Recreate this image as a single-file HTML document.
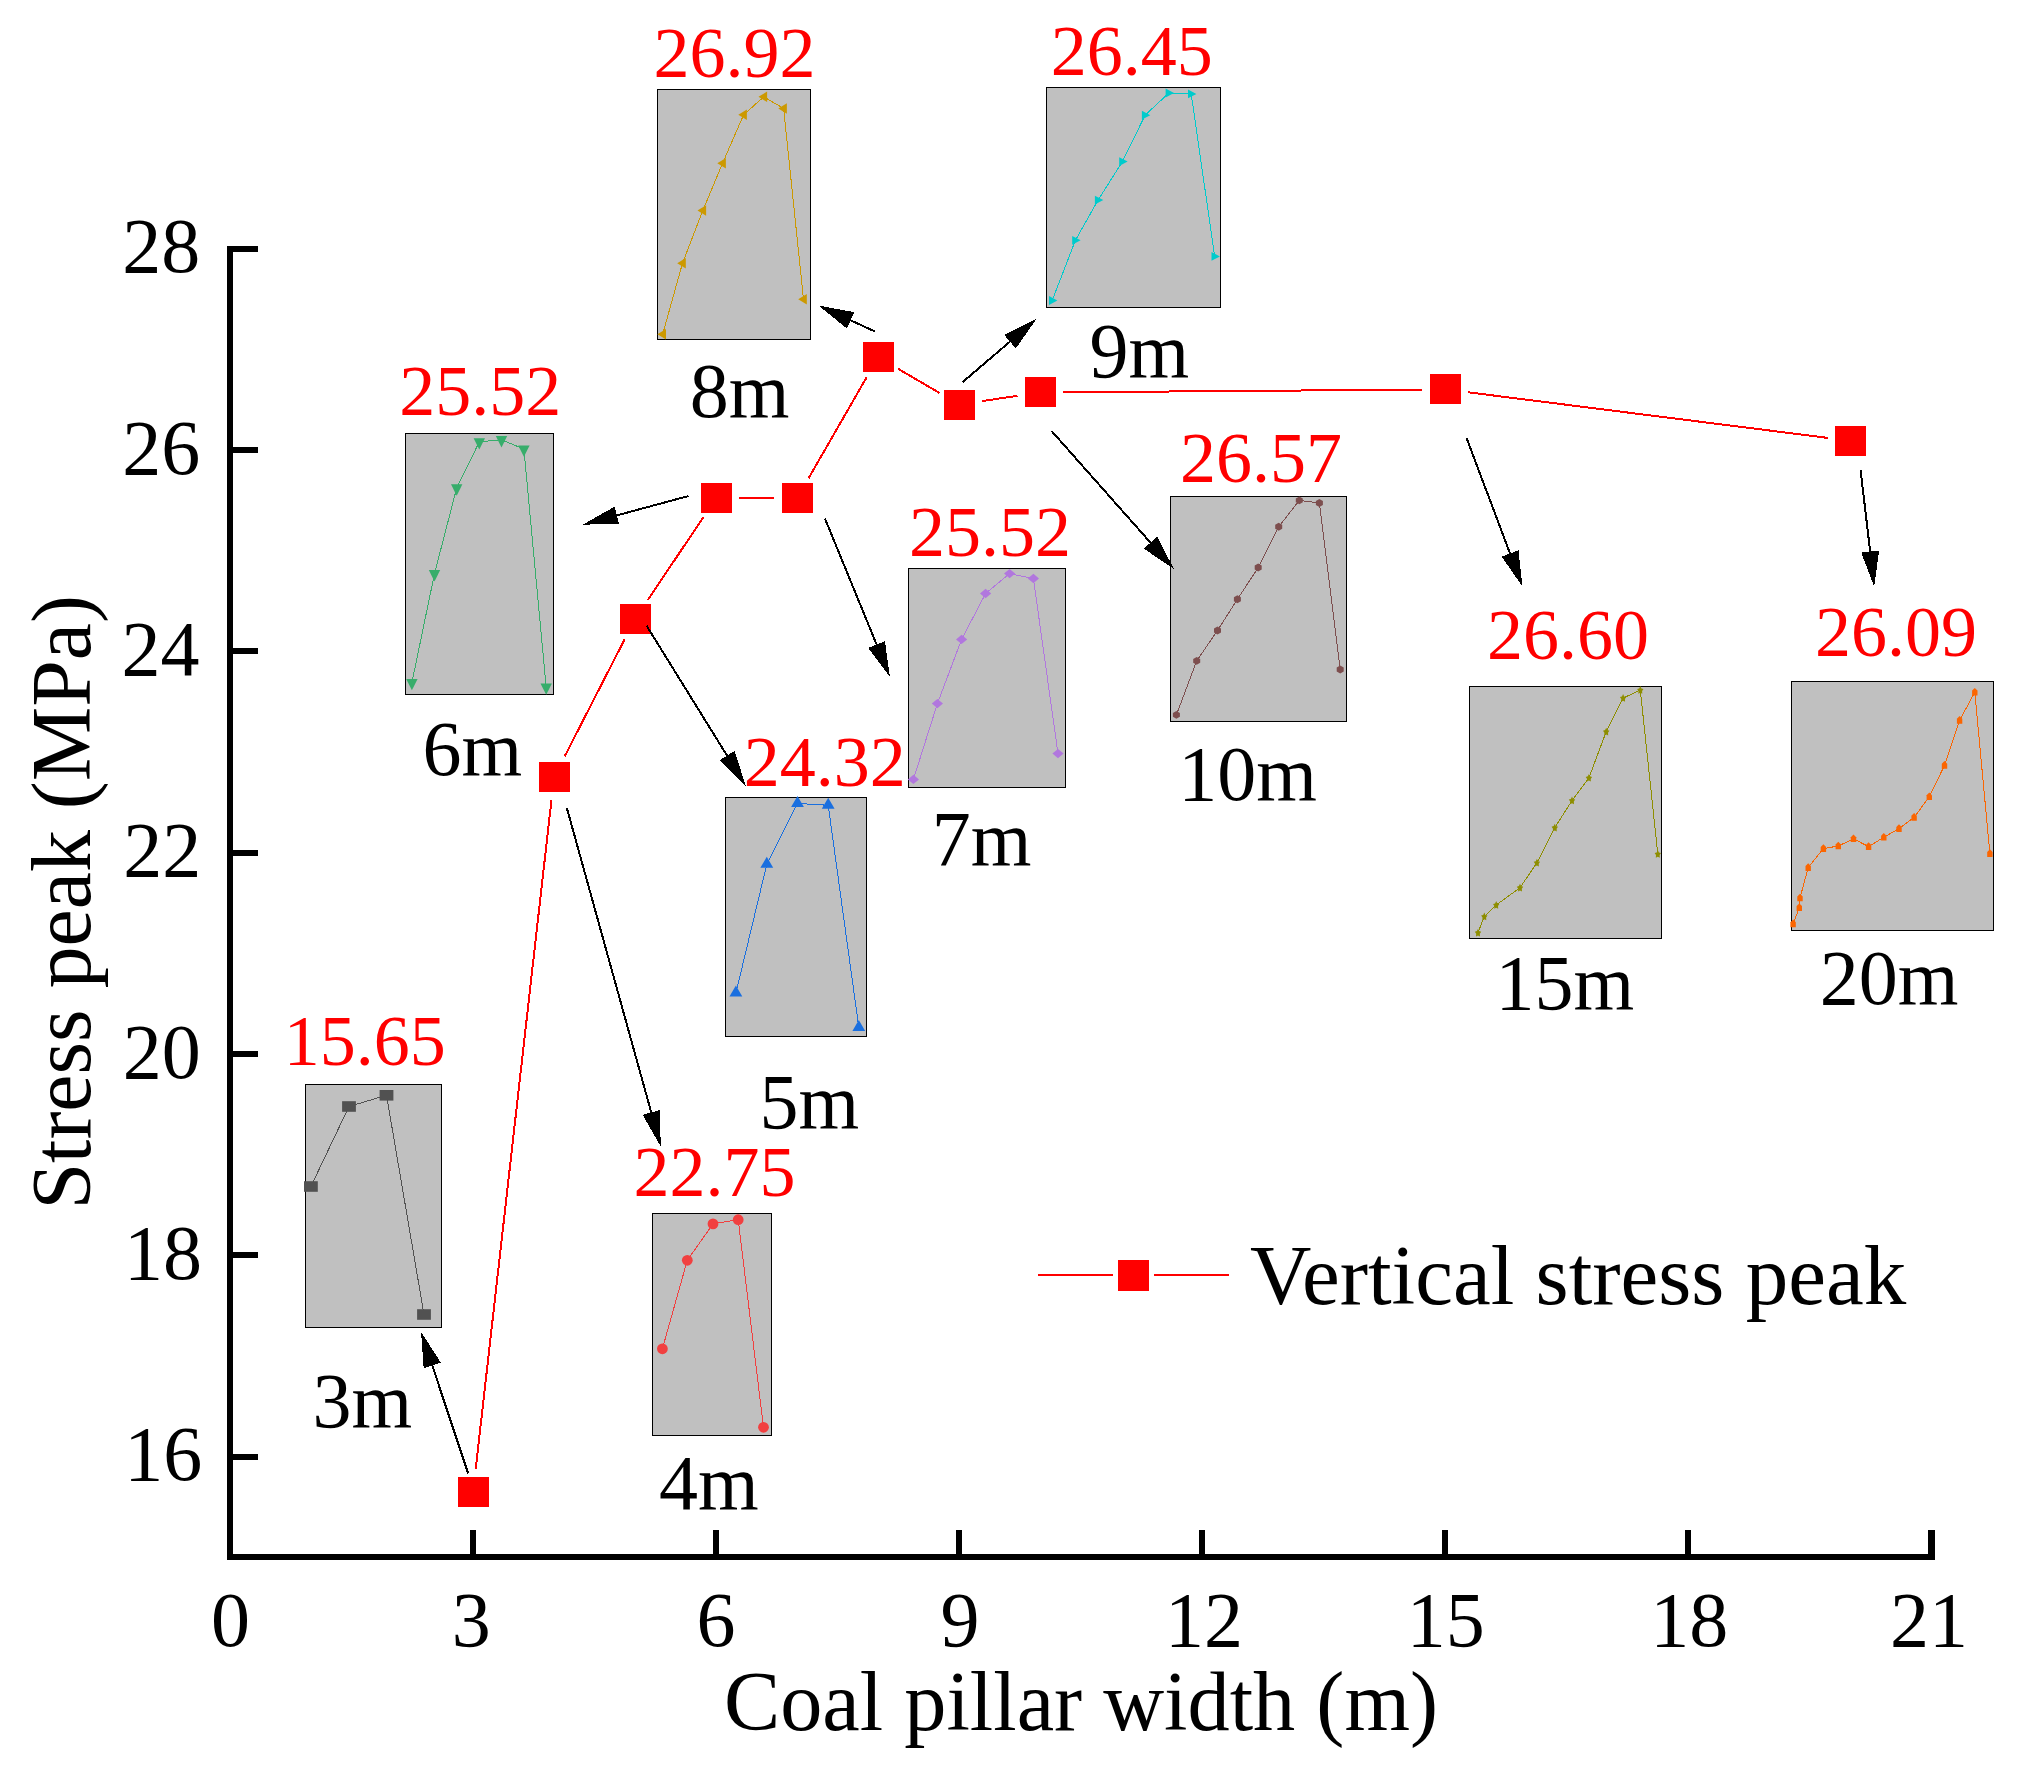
<!DOCTYPE html>
<html lang="en"><head><meta charset="utf-8"><title>Vertical stress peak vs coal pillar width</title>
<style>html,body{margin:0;padding:0;background:#fff}body{width:2024px;height:1773px;overflow:hidden}svg{display:block}text{font-family:"Liberation Serif","Times New Roman",serif}</style></head><body>
<svg width="2024" height="1773" viewBox="0 0 2024 1773">
<rect width="2024" height="1773" fill="#fff"/>
<g stroke="#ff0000" stroke-width="2" fill="none" shape-rendering="crispEdges">
<line x1="475.7" y1="1468.9" x2="551.5" y2="799.9"/>
<line x1="564.6" y1="756.5" x2="624.6" y2="639.4"/>
<line x1="647.9" y1="599.9" x2="703.3" y2="517.3"/>
<line x1="739.1" y1="498.2" x2="774.2" y2="498.2"/>
<line x1="808.6" y1="478.2" x2="866.7" y2="377.2"/>
<line x1="898.1" y1="368.8" x2="939.4" y2="392.9"/>
<line x1="982.0" y1="401.1" x2="1017.5" y2="395.8"/>
<line x1="1063.2" y1="392.3" x2="1422.4" y2="389.6"/>
<line x1="1468.2" y1="392.3" x2="1827.7" y2="437.9"/>
</g>
<g>
<rect x="305.5" y="1084.5" width="136.0" height="243.0" fill="#c0c0c0" stroke="#000" stroke-width="1" shape-rendering="crispEdges"/>
<polyline fill="none" stroke="#515151" stroke-width="1" shape-rendering="crispEdges" points="310.9,1186.5 349.0,1106.5 386.5,1095.3 424.0,1314.5"/>
<rect x="304.0" y="1181.2" width="13.8" height="10.6" fill="#515151"/>
<rect x="342.1" y="1101.2" width="13.8" height="10.6" fill="#515151"/>
<rect x="379.6" y="1090.0" width="13.8" height="10.6" fill="#515151"/>
<rect x="417.1" y="1309.2" width="13.8" height="10.6" fill="#515151"/>
</g>
<g>
<rect x="652.5" y="1213.5" width="119.0" height="222.0" fill="#c0c0c0" stroke="#000" stroke-width="1" shape-rendering="crispEdges"/>
<polyline fill="none" stroke="#f14040" stroke-width="1" shape-rendering="crispEdges" points="662.4,1348.8 687.3,1260.3 713.0,1223.9 738.2,1219.7 763.5,1427.3"/>
<circle cx="662.4" cy="1348.8" r="5.4" fill="#f14040"/>
<circle cx="687.3" cy="1260.3" r="5.4" fill="#f14040"/>
<circle cx="713.0" cy="1223.9" r="5.4" fill="#f14040"/>
<circle cx="738.2" cy="1219.7" r="5.4" fill="#f14040"/>
<circle cx="763.5" cy="1427.3" r="5.4" fill="#f14040"/>
</g>
<g>
<rect x="725.5" y="797.5" width="141.0" height="239.0" fill="#c0c0c0" stroke="#000" stroke-width="1" shape-rendering="crispEdges"/>
<polyline fill="none" stroke="#1a6fdf" stroke-width="1" shape-rendering="crispEdges" points="735.9,993.1 766.8,864.3 797.5,803.4 828.2,805.3 858.8,1027.4"/>
<path d="M735.9 985.6l6.4 11h-12.8z" fill="#1a6fdf"/>
<path d="M766.8 856.8l6.4 11h-12.8z" fill="#1a6fdf"/>
<path d="M797.5 795.9l6.4 11h-12.8z" fill="#1a6fdf"/>
<path d="M828.2 797.8l6.4 11h-12.8z" fill="#1a6fdf"/>
<path d="M858.8 1019.9l6.4 11h-12.8z" fill="#1a6fdf"/>
</g>
<g>
<rect x="405.5" y="433.5" width="148.0" height="261.0" fill="#c0c0c0" stroke="#000" stroke-width="1" shape-rendering="crispEdges"/>
<polyline fill="none" stroke="#37ad6b" stroke-width="1" shape-rendering="crispEdges" points="411.9,682.6 434.5,573.7 456.7,488.0 479.3,441.9 501.5,439.7 523.9,449.1 546.2,687.1"/>
<path d="M411.9 690.3l-5.7 -11.4h11.4z" fill="#37ad6b"/>
<path d="M434.5 581.4l-5.7 -11.4h11.4z" fill="#37ad6b"/>
<path d="M456.7 495.7l-5.7 -11.4h11.4z" fill="#37ad6b"/>
<path d="M479.3 449.6l-5.7 -11.4h11.4z" fill="#37ad6b"/>
<path d="M501.5 447.4l-5.7 -11.4h11.4z" fill="#37ad6b"/>
<path d="M523.9 456.8l-5.7 -11.4h11.4z" fill="#37ad6b"/>
<path d="M546.2 694.8l-5.7 -11.4h11.4z" fill="#37ad6b"/>
</g>
<g>
<rect x="908.5" y="568.5" width="157.0" height="219.0" fill="#c0c0c0" stroke="#000" stroke-width="1" shape-rendering="crispEdges"/>
<polyline fill="none" stroke="#b177de" stroke-width="1" shape-rendering="crispEdges" points="913.4,779.4 937.4,703.6 961.6,639.4 985.6,593.5 1009.6,573.6 1033.4,578.5 1058.0,753.6"/>
<path d="M913.4 774.7l5.6 4.7l-5.6 4.7l-5.6 -4.7z" fill="#b177de"/>
<path d="M937.4 698.9l5.6 4.7l-5.6 4.7l-5.6 -4.7z" fill="#b177de"/>
<path d="M961.6 634.7l5.6 4.7l-5.6 4.7l-5.6 -4.7z" fill="#b177de"/>
<path d="M985.6 588.8l5.6 4.7l-5.6 4.7l-5.6 -4.7z" fill="#b177de"/>
<path d="M1009.6 568.9l5.6 4.7l-5.6 4.7l-5.6 -4.7z" fill="#b177de"/>
<path d="M1033.4 573.8l5.6 4.7l-5.6 4.7l-5.6 -4.7z" fill="#b177de"/>
<path d="M1058.0 748.9l5.6 4.7l-5.6 4.7l-5.6 -4.7z" fill="#b177de"/>
</g>
<g>
<rect x="657.5" y="89.5" width="153.0" height="250.0" fill="#c0c0c0" stroke="#000" stroke-width="1" shape-rendering="crispEdges"/>
<polyline fill="none" stroke="#cc9900" stroke-width="1" shape-rendering="crispEdges" points="662.7,334.2 682.5,263.2 702.8,210.5 722.6,163.2 743.6,114.8 763.8,96.8 783.6,108.5 803.5,299.3"/>
<path d="M657.4 334.2l8.6 -5.2v10.4z" fill="#cc9900"/>
<path d="M677.2 263.2l8.6 -5.2v10.4z" fill="#cc9900"/>
<path d="M697.5 210.5l8.6 -5.2v10.4z" fill="#cc9900"/>
<path d="M717.3 163.2l8.6 -5.2v10.4z" fill="#cc9900"/>
<path d="M738.3 114.8l8.6 -5.2v10.4z" fill="#cc9900"/>
<path d="M758.5 96.8l8.6 -5.2v10.4z" fill="#cc9900"/>
<path d="M778.3 108.5l8.6 -5.2v10.4z" fill="#cc9900"/>
<path d="M798.2 299.3l8.6 -5.2v10.4z" fill="#cc9900"/>
</g>
<g>
<rect x="1046.5" y="87.5" width="174.0" height="220.0" fill="#c0c0c0" stroke="#000" stroke-width="1" shape-rendering="crispEdges"/>
<polyline fill="none" stroke="#00cbcc" stroke-width="1" shape-rendering="crispEdges" points="1052.2,300.5 1075.4,240.3 1098.1,200.1 1122.4,161.6 1145.1,115.2 1168.8,93.0 1191.2,93.9 1214.7,256.4"/>
<path d="M1057.4 300.5l-8.4 -4.4v8.8z" fill="#00cbcc"/>
<path d="M1080.6 240.3l-8.4 -4.4v8.8z" fill="#00cbcc"/>
<path d="M1103.3 200.1l-8.4 -4.4v8.8z" fill="#00cbcc"/>
<path d="M1127.6 161.6l-8.4 -4.4v8.8z" fill="#00cbcc"/>
<path d="M1150.3 115.2l-8.4 -4.4v8.8z" fill="#00cbcc"/>
<path d="M1174.0 93.0l-8.4 -4.4v8.8z" fill="#00cbcc"/>
<path d="M1196.4 93.9l-8.4 -4.4v8.8z" fill="#00cbcc"/>
<path d="M1219.9 256.4l-8.4 -4.4v8.8z" fill="#00cbcc"/>
</g>
<g>
<rect x="1170.5" y="496.5" width="176.0" height="225.0" fill="#c0c0c0" stroke="#000" stroke-width="1" shape-rendering="crispEdges"/>
<polyline fill="none" stroke="#7d4e4e" stroke-width="1" shape-rendering="crispEdges" points="1176.4,714.9 1196.7,660.9 1217.5,630.5 1237.4,599.3 1258.2,567.5 1278.7,526.8 1299.3,500.4 1319.4,503.0 1340.2,669.6"/>
<path d="M1176.4 710.9l3.5 2v3.9l-3.5 2l-3.5 -2v-3.9z" fill="#7d4e4e"/>
<path d="M1196.7 656.9l3.5 2v3.9l-3.5 2l-3.5 -2v-3.9z" fill="#7d4e4e"/>
<path d="M1217.5 626.5l3.5 2v3.9l-3.5 2l-3.5 -2v-3.9z" fill="#7d4e4e"/>
<path d="M1237.4 595.3l3.5 2v3.9l-3.5 2l-3.5 -2v-3.9z" fill="#7d4e4e"/>
<path d="M1258.2 563.5l3.5 2v3.9l-3.5 2l-3.5 -2v-3.9z" fill="#7d4e4e"/>
<path d="M1278.7 522.8l3.5 2v3.9l-3.5 2l-3.5 -2v-3.9z" fill="#7d4e4e"/>
<path d="M1299.3 496.4l3.5 2v3.9l-3.5 2l-3.5 -2v-3.9z" fill="#7d4e4e"/>
<path d="M1319.4 499.1l3.5 2v3.9l-3.5 2l-3.5 -2v-3.9z" fill="#7d4e4e"/>
<path d="M1340.2 665.6l3.5 2v3.9l-3.5 2l-3.5 -2v-3.9z" fill="#7d4e4e"/>
</g>
<g>
<rect x="1469.5" y="686.5" width="192.0" height="252.0" fill="#c0c0c0" stroke="#000" stroke-width="1" shape-rendering="crispEdges"/>
<polyline fill="none" stroke="#8e8e00" stroke-width="1" shape-rendering="crispEdges" points="1478.0,932.7 1484.3,916.5 1496.2,905.0 1520.0,887.7 1536.9,862.8 1554.8,827.7 1572.0,800.6 1588.9,777.9 1606.2,731.7 1623.1,698.1 1640.3,690.1 1657.8,854.1"/>
<path d="M1478.0 928.8L1479.1 931.1L1481.2 931.7L1479.8 933.7L1480.0 936.4L1478.0 935.4L1476.0 936.4L1476.2 933.7L1474.8 931.7L1476.9 931.1z" fill="#8e8e00"/>
<path d="M1484.3 912.5L1485.4 914.9L1487.5 915.5L1486.1 917.5L1486.3 920.2L1484.3 919.2L1482.3 920.2L1482.5 917.5L1481.1 915.5L1483.2 914.9z" fill="#8e8e00"/>
<path d="M1496.2 901.0L1497.3 903.4L1499.4 904.0L1498.0 906.0L1498.2 908.7L1496.2 907.7L1494.2 908.7L1494.4 906.0L1493.0 904.0L1495.1 903.4z" fill="#8e8e00"/>
<path d="M1520.0 883.8L1521.1 886.1L1523.2 886.7L1521.8 888.7L1522.0 891.4L1520.0 890.4L1518.0 891.4L1518.2 888.7L1516.8 886.7L1518.9 886.1z" fill="#8e8e00"/>
<path d="M1536.9 858.8L1538.0 861.2L1540.1 861.8L1538.7 863.8L1538.9 866.5L1536.9 865.5L1534.9 866.5L1535.1 863.8L1533.7 861.8L1535.8 861.2z" fill="#8e8e00"/>
<path d="M1554.8 823.8L1555.9 826.1L1558.0 826.7L1556.6 828.7L1556.8 831.4L1554.8 830.4L1552.8 831.4L1553.0 828.7L1551.6 826.7L1553.7 826.1z" fill="#8e8e00"/>
<path d="M1572.0 796.6L1573.1 799.0L1575.2 799.6L1573.8 801.6L1574.0 804.3L1572.0 803.3L1570.0 804.3L1570.2 801.6L1568.8 799.6L1570.9 799.0z" fill="#8e8e00"/>
<path d="M1588.9 773.9L1590.0 776.3L1592.1 776.9L1590.7 778.9L1590.9 781.6L1588.9 780.6L1586.9 781.6L1587.1 778.9L1585.7 776.9L1587.8 776.3z" fill="#8e8e00"/>
<path d="M1606.2 727.8L1607.3 730.1L1609.4 730.7L1608.0 732.7L1608.2 735.4L1606.2 734.4L1604.2 735.4L1604.4 732.7L1603.0 730.7L1605.1 730.1z" fill="#8e8e00"/>
<path d="M1623.1 694.1L1624.2 696.5L1626.3 697.1L1624.9 699.1L1625.1 701.8L1623.1 700.8L1621.1 701.8L1621.3 699.1L1619.9 697.1L1622.0 696.5z" fill="#8e8e00"/>
<path d="M1640.3 686.1L1641.4 688.5L1643.5 689.1L1642.1 691.1L1642.3 693.8L1640.3 692.8L1638.3 693.8L1638.5 691.1L1637.1 689.1L1639.2 688.5z" fill="#8e8e00"/>
<path d="M1657.8 850.1L1658.9 852.5L1661.0 853.1L1659.6 855.1L1659.8 857.8L1657.8 856.8L1655.8 857.8L1656.0 855.1L1654.6 853.1L1656.7 852.5z" fill="#8e8e00"/>
</g>
<g>
<rect x="1791.5" y="681.5" width="202.0" height="249.0" fill="#c0c0c0" stroke="#000" stroke-width="1" shape-rendering="crispEdges"/>
<polyline fill="none" stroke="#fb6501" stroke-width="1" shape-rendering="crispEdges" points="1793.1,923.9 1799.3,907.7 1800.0,898.0 1808.2,867.6 1823.4,848.6 1838.3,846.0 1853.5,838.8 1868.6,846.6 1883.8,837.3 1899.0,828.6 1914.1,817.4 1929.3,796.8 1944.5,765.4 1959.6,720.4 1974.8,692.2 1989.9,853.6"/>
<path d="M1793.1 919.6l2.7 2.7v4.9h-5.4v-4.9z" fill="#fb6501"/>
<path d="M1799.3 903.4l2.7 2.7v4.9h-5.4v-4.9z" fill="#fb6501"/>
<path d="M1800.0 893.7l2.7 2.7v4.9h-5.4v-4.9z" fill="#fb6501"/>
<path d="M1808.2 863.3l2.7 2.7v4.9h-5.4v-4.9z" fill="#fb6501"/>
<path d="M1823.4 844.3l2.7 2.7v4.9h-5.4v-4.9z" fill="#fb6501"/>
<path d="M1838.3 841.7l2.7 2.7v4.9h-5.4v-4.9z" fill="#fb6501"/>
<path d="M1853.5 834.5l2.7 2.7v4.9h-5.4v-4.9z" fill="#fb6501"/>
<path d="M1868.6 842.3l2.7 2.7v4.9h-5.4v-4.9z" fill="#fb6501"/>
<path d="M1883.8 833.0l2.7 2.7v4.9h-5.4v-4.9z" fill="#fb6501"/>
<path d="M1899.0 824.3l2.7 2.7v4.9h-5.4v-4.9z" fill="#fb6501"/>
<path d="M1914.1 813.1l2.7 2.7v4.9h-5.4v-4.9z" fill="#fb6501"/>
<path d="M1929.3 792.5l2.7 2.7v4.9h-5.4v-4.9z" fill="#fb6501"/>
<path d="M1944.5 761.1l2.7 2.7v4.9h-5.4v-4.9z" fill="#fb6501"/>
<path d="M1959.6 716.1l2.7 2.7v4.9h-5.4v-4.9z" fill="#fb6501"/>
<path d="M1974.8 687.9l2.7 2.7v4.9h-5.4v-4.9z" fill="#fb6501"/>
<path d="M1989.9 849.3l2.7 2.7v4.9h-5.4v-4.9z" fill="#fb6501"/>
</g>
<g fill="#ff0000">
<rect x="458" y="1477" width="31" height="30"/>
<rect x="539" y="762" width="31" height="30"/>
<rect x="620" y="604" width="31" height="30"/>
<rect x="701" y="483" width="31" height="30"/>
<rect x="782" y="483" width="31" height="30"/>
<rect x="863" y="342" width="31" height="30"/>
<rect x="944" y="390" width="31" height="30"/>
<rect x="1025" y="377" width="31" height="30"/>
<rect x="1430" y="374" width="31" height="30"/>
<rect x="1835" y="426" width="31" height="30"/>
</g>
<g shape-rendering="crispEdges">
<line x1="468.1" y1="1473.4" x2="431.6" y2="1363.5" stroke="#000" stroke-width="2"/><path d="M421.1 1332.0L440.8 1362.5L423.7 1368.2z" fill="#000"/>
<line x1="566.8" y1="807.8" x2="651.8" y2="1114.4" stroke="#000" stroke-width="2"/><path d="M660.7 1146.4L642.6 1114.8L660.0 1110.0z" fill="#000"/>
<line x1="646.7" y1="625.9" x2="728.1" y2="757.3" stroke="#000" stroke-width="2"/><path d="M745.5 785.5L719.3 760.3L734.7 750.9z" fill="#000"/>
<line x1="688.5" y1="496.0" x2="614.9" y2="515.9" stroke="#000" stroke-width="2"/><path d="M582.8 524.6L614.5 506.7L619.2 524.1z" fill="#000"/>
<line x1="824.9" y1="518.4" x2="877.4" y2="646.4" stroke="#000" stroke-width="2"/><path d="M890.0 677.1L868.3 648.0L884.9 641.1z" fill="#000"/>
<line x1="874.7" y1="331.4" x2="848.9" y2="319.5" stroke="#000" stroke-width="2"/><path d="M818.7 305.6L854.4 312.2L846.9 328.5z" fill="#000"/>
<line x1="962.5" y1="382.2" x2="1011.5" y2="340.3" stroke="#000" stroke-width="2"/><path d="M1036.7 318.7L1015.8 348.4L1004.1 334.8z" fill="#000"/>
<line x1="1051.4" y1="430.8" x2="1151.9" y2="544.2" stroke="#000" stroke-width="2"/><path d="M1173.9 569.0L1143.8 548.6L1157.3 536.7z" fill="#000"/>
<line x1="1466.7" y1="438.3" x2="1510.7" y2="555.3" stroke="#000" stroke-width="2"/><path d="M1522.4 586.4L1501.6 556.6L1518.5 550.3z" fill="#000"/>
<line x1="1860.6" y1="470.3" x2="1870.4" y2="553.5" stroke="#000" stroke-width="2"/><path d="M1874.2 586.5L1861.2 552.6L1879.1 550.5z" fill="#000"/>
</g>
<g fill="#000" shape-rendering="crispEdges">
<rect x="227" y="246" width="6" height="1314"/>
<rect x="227" y="1554" width="1708" height="6"/>
<rect x="227" y="1454" width="31" height="6"/>
<rect x="227" y="1252" width="31" height="6"/>
<rect x="227" y="1051" width="31" height="6"/>
<rect x="227" y="850" width="31" height="6"/>
<rect x="227" y="648" width="31" height="6"/>
<rect x="227" y="447" width="31" height="6"/>
<rect x="227" y="246" width="31" height="6"/>
<rect x="470" y="1530" width="6" height="30"/>
<rect x="713" y="1530" width="6" height="30"/>
<rect x="956" y="1530" width="6" height="30"/>
<rect x="1199" y="1530" width="6" height="30"/>
<rect x="1442" y="1530" width="6" height="30"/>
<rect x="1685" y="1530" width="6" height="30"/>
<rect x="1928" y="1530" width="7" height="30"/>
</g>
<g font-size="78" fill="#000">
<text x="124.2" y="1480.3">16</text>
<text x="124.1" y="1279.0">18</text>
<text x="122.7" y="1077.6">20</text>
<text x="123.3" y="876.3">22</text>
<text x="121.6" y="675.0">24</text>
<text x="122.3" y="473.6">26</text>
<text x="122.2" y="272.3">28</text>
<text x="211.0" y="1645.5">0</text>
<text x="451.8" y="1645.5">3</text>
<text x="696.4" y="1645.5">6</text>
<text x="940.5" y="1645.5">9</text>
<text x="1165.1" y="1645.5">12</text>
<text x="1406.7" y="1645.5">15</text>
<text x="1650.3" y="1645.5">18</text>
<text x="1890.1" y="1645.5">21</text>
</g>
<text x="1081" y="1730.3" font-size="84.3" text-anchor="middle">Coal pillar width (m)</text>
<text transform="translate(90.2,902.3) rotate(-90)" font-size="83.8" text-anchor="middle">Stress peak (MPa)</text>
<g font-size="72" fill="#ff0000">
<text x="283.7" y="1065.3">15.65</text>
<text x="633.6" y="1196.4">22.75</text>
<text x="743.7" y="786.3">24.32</text>
<text x="399.3" y="415.3">25.52</text>
<text x="908.9" y="555.7">25.52</text>
<text x="653.6" y="77.3">26.92</text>
<text x="1050.7" y="74.6">26.45</text>
<text x="1179.9" y="482.0">26.57</text>
<text x="1486.9" y="659.3">26.60</text>
<text x="1815.0" y="656.0">26.09</text>
</g>
<g font-size="78" fill="#000">
<text x="312.4" y="1427.0">3m</text>
<text x="659.0" y="1508.8">4m</text>
<text x="759.5" y="1127.7">5m</text>
<text x="422.6" y="775.0">6m</text>
<text x="931.7" y="864.9">7m</text>
<text x="689.7" y="417.2">8m</text>
<text x="1089.5" y="377.2">9m</text>
<text x="1178.3" y="799.7">10m</text>
<text x="1495.5" y="1008.6">15m</text>
<text x="1819.7" y="1003.6">20m</text>
</g>
<g shape-rendering="crispEdges"><rect x="1038" y="1274" width="75" height="2" fill="#ff0000"/><rect x="1154" y="1274" width="75" height="2" fill="#ff0000"/>
<rect x="1118" y="1260" width="31" height="30.5" fill="#ff0000"/></g>
<text x="1250" y="1303.6" font-size="85">Vertical stress peak</text>
</svg></body></html>
